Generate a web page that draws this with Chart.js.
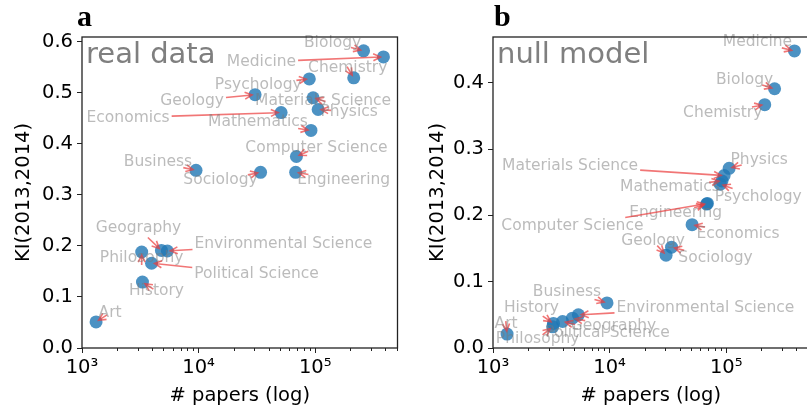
<!DOCTYPE html>
<html>
<head>
<meta charset="utf-8">
<script src="https://cdn.jsdelivr.net/npm/chart.js@4.4.0/dist/chart.umd.min.js"></script>
<style>
  html, body { margin: 0; padding: 0; background: #fff; overflow: hidden; }
  body { width: 807px; height: 412px; position: relative; }
  canvas { position: absolute; top: 0; }
  #chartA { left: 0; }
  #chartB { left: 410px; }
</style>
</head>
<body>
<canvas id="chartA" width="404" height="412"></canvas>
<canvas id="chartB" width="405" height="412"></canvas>
<script>
// fields, paper counts and knowledge integration for 2013->2014
const fields = ['Art', 'Philosophy', 'History', 'Political Science', 'Geography',
  'Environmental Science', 'Business', 'Geology', 'Sociology', 'Economics',
  'Engineering', 'Computer Science', 'Psychology', 'Mathematics',
  'Materials Science', 'Physics', 'Chemistry', 'Biology', 'Medicine'];
const papers = [1320, 3250, 3300, 3950, 4800, 5400, 9500, 30500, 34000, 51000,
  68000, 69000, 89000, 92000, 96000, 106000, 214000, 260000, 385000];
const kiReal = [0.051, 0.188, 0.129, 0.166, 0.191, 0.190, 0.348, 0.496, 0.344, 0.461,
  0.344, 0.375, 0.527, 0.426, 0.490, 0.467, 0.529, 0.582, 0.570];
const kiNull = [0.021, 0.032, 0.037, 0.040, 0.045, 0.050, 0.068, 0.140, 0.152, 0.186,
  0.217, 0.218, 0.247, 0.252, 0.260, 0.271, 0.367, 0.391, 0.448];

const xTicks = [1e3, 1e4, 1e5];
const xTickLabels = ['10\u00b3', '10\u2074', '10\u2075'];
const yTicksReal = [0.0, 0.1, 0.2, 0.3, 0.4, 0.5, 0.6];
const yTicksNull = [0.0, 0.1, 0.2, 0.3, 0.4];

// where each label sits relative to its point (px)
const offsetsReal = [[14, -9], [0, 6], [14, 9], [105, 11], [-23, -22],
  [116, -7], [-38, -8], [-63, 6], [-40, 8], [-153, 5],
  [48, 8], [20, -9], [-51, 6], [-53, -8], [10, 3],
  [31, 2], [-6, -10], [-31, -8], [-122, 5]];
const offsetsNull = [[-1, -10], [-15, 12], [-22, -15], [45, 11], [41, 8],
  [127, -7], [-40, -11], [-13, -14], [44, 11], [46, 9],
  [-31, 9], [-135, 23], [38, 13], [-52, 6], [-154, -10],
  [30, -8], [-42, 8], [-30, -9], [-37, -9]];

const FONT = '"DejaVu Sans", sans-serif';

// labels with arrows pointing at each field
const annotate = {
  id: 'annotate',
  afterDatasetsDraw(chart, args, opts) {
    const { ctx } = chart;
    const xs = chart.scales.x, ys = chart.scales.y;
    ctx.save();
    ctx.font = '15.5px ' + FONT;
    ctx.textAlign = 'center';
    ctx.textBaseline = 'middle';
    opts.values.forEach((v, i) => {
      const px = xs.getPixelForValue(papers[i]);
      const py = ys.getPixelForValue(v);
      const tx = px + opts.offsets[i][0], ty = py + opts.offsets[i][1];
      const w = ctx.measureText(fields[i]).width / 2 + 2, h = 9;
      const dx = px - tx, dy = py - ty;
      const d = Math.hypot(dx, dy) || 1;
      const ux = dx / d, uy = dy / d;
      let sx = px - ux * 13, sy = py - uy * 13;
      if (Math.abs(dx) > w || Math.abs(dy) > h) {
        const t = Math.min(Math.abs(dx) > 0 ? w / Math.abs(dx) : 1e9,
                           Math.abs(dy) > 0 ? h / Math.abs(dy) : 1e9);
        // clip at the label box, but keep at least a short stub
        if (d * (1 - t) > 13) { sx = tx + dx * t; sy = ty + dy * t; }
      }
      const ex = px - ux * 3, ey = py - uy * 3;
      const ang = Math.atan2(uy, ux);
      ctx.strokeStyle = 'rgba(235,60,60,0.7)';
      ctx.lineWidth = 1.6;
      ctx.beginPath();
      ctx.moveTo(sx, sy); ctx.lineTo(ex, ey);
      ctx.moveTo(ex - 8 * Math.cos(ang - 0.45), ey - 8 * Math.sin(ang - 0.45));
      ctx.lineTo(ex, ey);
      ctx.lineTo(ex - 8 * Math.cos(ang + 0.45), ey - 8 * Math.sin(ang + 0.45));
      ctx.stroke();
      ctx.fillStyle = 'rgba(120,120,120,0.5)';
      ctx.fillText(fields[i], tx, ty);
    });
    ctx.restore();
  }
};

// axes box, minor log ticks, panel letter and in-plot tag
const frame = {
  id: 'frame',
  afterDraw(chart, args, opts) {
    const { ctx, chartArea: a } = chart;
    const xs = chart.scales.x;
    ctx.save();
    ctx.strokeStyle = '#222';
    ctx.lineWidth = 1.3;
    ctx.strokeRect(a.left, a.top, a.right - a.left, a.bottom - a.top);
    ctx.lineWidth = 1;
    for (let e = 3; e <= 5; e++) {
      for (let m = 2; m <= 9; m++) {
        const v = m * Math.pow(10, e);
        if (v >= xs.max) break;
        const x = Math.round(xs.getPixelForValue(v)) + 0.5;
        ctx.beginPath();
        ctx.moveTo(x, a.bottom); ctx.lineTo(x, a.bottom + 3);
        ctx.stroke();
      }
    }
    ctx.fillStyle = '#000';
    ctx.font = 'bold 30px "Liberation Serif", serif';
    ctx.textBaseline = 'alphabetic';
    ctx.fillText(opts.letter, a.left + opts.letterDx, 26);
    ctx.fillStyle = '#7f7f7f';
    ctx.font = '29px ' + FONT;
    ctx.fillText(opts.tag, a.left + 4, a.top + 26);
    ctx.restore();
  }
};

function makePanel(id, values, yMax, yTicks, offsets, letter, letterDx, tag, titlePad) {
  return new Chart(document.getElementById(id), {
    type: 'scatter',
    data: {
      datasets: [{
        data: papers.map((p, i) => ({ x: p, y: values[i] })),
        backgroundColor: 'rgba(31,119,180,0.8)',
        borderWidth: 0,
        pointRadius: 6.5,
        pointHoverRadius: 6.5
      }]
    },
    options: {
      responsive: false,
      animation: false,
      devicePixelRatio: 1,
      layout: { padding: { top: 37, left: 0, right: 0, bottom: 0 } },
      plugins: {
        legend: { display: false },
        tooltip: { enabled: false },
        annotate: { values: values, offsets: offsets },
        frame: { letter: letter, letterDx: letterDx, tag: tag }
      },
      scales: {
        x: {
          type: 'logarithmic',
          min: 1000,
          max: 508000,
          afterBuildTicks: s => { s.ticks = xTicks.map(v => ({ value: v })); },
          afterFit: s => { s.height = 64; },
          border: { display: false },
          grid: { drawOnChartArea: false, tickLength: 5, tickColor: '#222', tickWidth: 1 },
          ticks: {
            autoSkip: false, maxRotation: 0, padding: 3, color: '#000',
            font: { family: FONT, size: 19.5 },
            callback: (v, i) => xTickLabels[i]
          },
          title: {
            display: true, text: '# papers (log)', color: '#000',
            font: { family: FONT, size: 19.5 }, padding: { top: 0, bottom: 4 }
          }
        },
        y: {
          min: 0,
          max: yMax,
          afterBuildTicks: s => { s.ticks = yTicks.map(v => ({ value: v })); },
          afterFit: s => { s.width = id === 'chartA' ? 82 : 83; },
          border: { display: false },
          grid: { drawOnChartArea: false, tickLength: 5, tickColor: '#222', tickWidth: 1 },
          ticks: {
            padding: 4, color: '#000',
            font: { family: FONT, size: 19.5 },
            callback: v => v.toFixed(1)
          },
          title: {
            display: true, text: 'KI(2013,2014)', color: '#000',
            font: { family: FONT, size: 19.5 }, padding: { top: titlePad, bottom: 0 }
          }
        }
      }
    },
    plugins: [annotate, frame]
  });
}

makePanel('chartA', kiReal, 0.609, yTicksReal, offsetsReal, 'a', -5, 'real data', 12);
makePanel('chartB', kiNull, 0.469, yTicksNull, offsetsNull, 'b', 1, 'null model', 16);
</script>
</body>
</html>
